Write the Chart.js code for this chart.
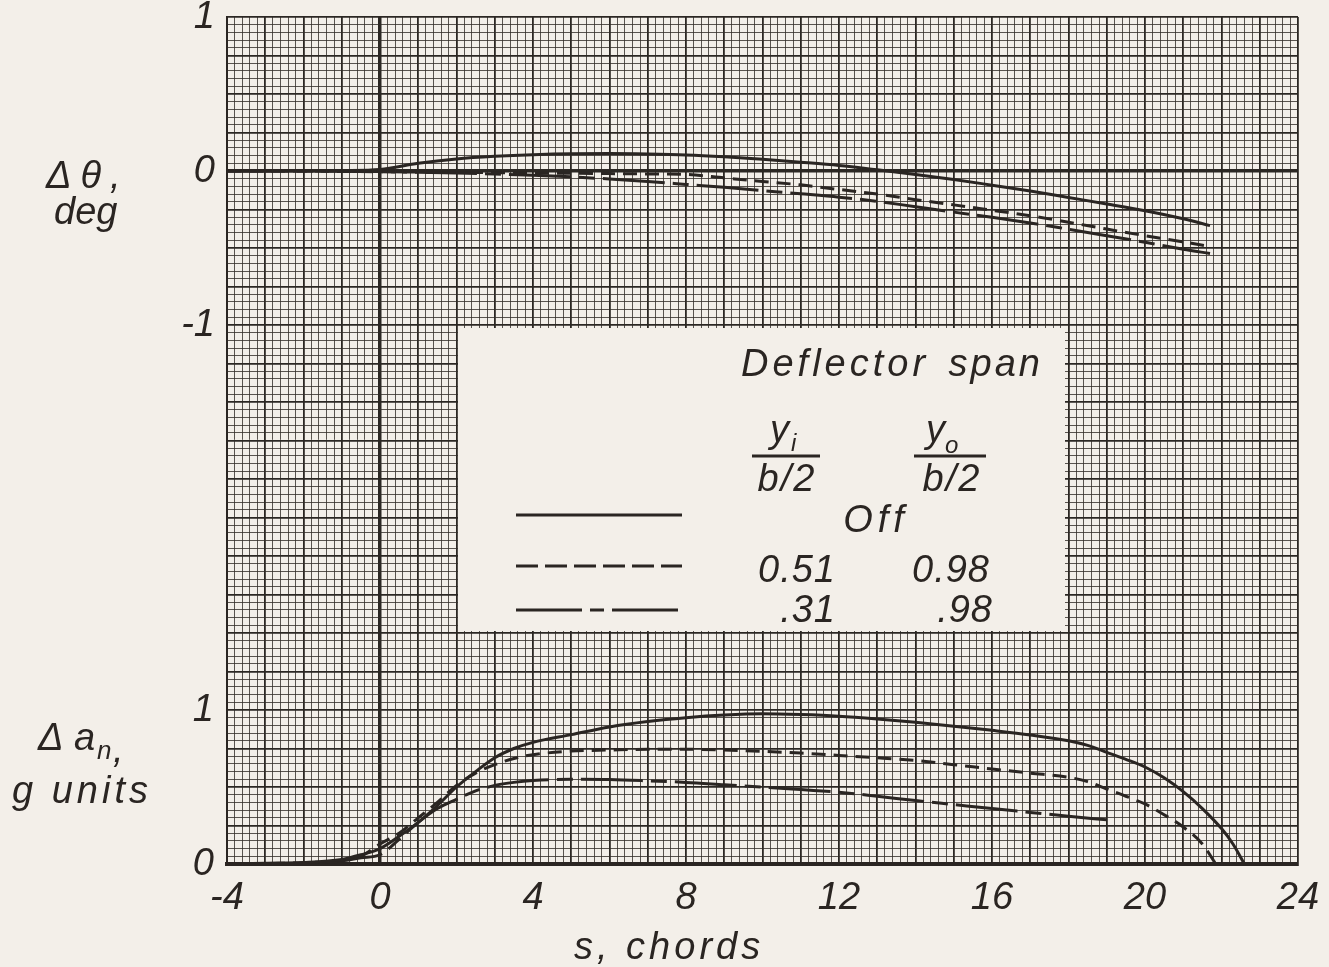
<!DOCTYPE html>
<html>
<head>
<meta charset="utf-8">
<script src="https://cdn.jsdelivr.net/npm/chart.js@4.4.1/dist/chart.umd.min.js"></script>
<style>
html, body { margin: 0; padding: 0; background: #f3efe9; }
#wrap { width: 1329px; height: 967px; }
</style>
</head>
<body>
<div id="wrap"><canvas id="chart" width="1329" height="967"></canvas></div>
<script>
// s, chords (shared by the three delta-theta curves)
const sTheta = [-4, -2, -1, 0, 1, 2, 3, 4, 5, 6, 7, 8, 9, 10, 11, 12, 13, 14, 15, 16, 17, 18, 19, 20, 21, 21.7];
// delta theta, deg
const thetaOff = [0, 0, 0.003, 0.01, 0.05, 0.078, 0.095, 0.106, 0.112, 0.113, 0.11, 0.104, 0.092, 0.076, 0.057, 0.036, 0.008, -0.022, -0.055, -0.092, -0.13, -0.172, -0.214, -0.258, -0.31, -0.355];
const theta51 = [0, 0, -0.003, -0.005, -0.007, -0.009, -0.011, -0.013, -0.015, -0.017, -0.019, -0.022, -0.045, -0.068, -0.09, -0.12, -0.15, -0.186, -0.22, -0.255, -0.29, -0.333, -0.377, -0.42, -0.46, -0.49];
const theta31 = [0, 0, -0.002, -0.004, -0.008, -0.013, -0.02, -0.028, -0.038, -0.052, -0.068, -0.087, -0.106, -0.127, -0.148, -0.17, -0.197, -0.232, -0.267, -0.3, -0.337, -0.378, -0.42, -0.463, -0.508, -0.536];

// delta a_n, g units
const sAccelOff = [-4, -3, -2, -1, -0.5, 0, 0.5, 1, 1.5, 2, 2.5, 3, 3.5, 4, 5, 6, 7, 8, 9, 10, 11, 12, 13, 14, 15, 16, 17, 18, 18.5, 19, 19.5, 20, 20.5, 21, 21.5, 22, 22.3, 22.6];
const accelOff = [0, 0.005, 0.01, 0.03, 0.06, 0.1, 0.18, 0.27, 0.38, 0.5, 0.6, 0.69, 0.75, 0.79, 0.84, 0.89, 0.925, 0.95, 0.967, 0.975, 0.97, 0.96, 0.942, 0.92, 0.895, 0.868, 0.838, 0.8, 0.77, 0.725, 0.68, 0.63, 0.56, 0.47, 0.36, 0.23, 0.13, 0];
const sAccel51 = [-4, -3, -2, -1, -0.5, 0, 0.5, 1, 1.5, 2, 2.5, 3, 3.5, 4, 5, 6, 7, 8, 9, 10, 11, 12, 13, 14, 15, 16, 17, 18, 18.5, 19, 19.5, 20, 20.5, 21, 21.5, 21.85];
const accel51 = [0, 0.003, 0.008, 0.025, 0.05, 0.13, 0.2, 0.3, 0.4, 0.51, 0.59, 0.645, 0.685, 0.71, 0.733, 0.74, 0.745, 0.745, 0.74, 0.732, 0.72, 0.705, 0.69, 0.672, 0.645, 0.617, 0.59, 0.563, 0.535, 0.487, 0.44, 0.39, 0.32, 0.24, 0.13, 0];
const sAccel31 = [-4, -3, -2, -1, -0.5, 0, 0.5, 1, 1.5, 2, 2.5, 3, 3.5, 4, 5, 6, 7, 8, 9, 10, 11, 12, 13, 14, 15, 16, 17, 18, 19];
const accel31 = [0, 0.002, 0.005, 0.02, 0.04, 0.06, 0.16, 0.27, 0.36, 0.42, 0.475, 0.51, 0.53, 0.542, 0.55, 0.548, 0.54, 0.53, 0.515, 0.5, 0.483, 0.466, 0.44, 0.412, 0.386, 0.36, 0.335, 0.31, 0.287];

const xLabels = [-4, 0, 4, 8, 12, 16, 20, 24];
const thetaLabels = [1, 0, -1];
const accelLabels = [1, 0];

const ink = '#2a2522';
const paper = '#f3efe9';
const fam = "'Liberation Sans', Arial, sans-serif";
const dashed = [14, 8];
const dashDot = [62, 8, 16, 8];

const near = (a, b) => Math.abs(a - b) < 1e-6;
const isMult = (v, m) => near(v / m, Math.round(v / m));

function series(xs, ys, dash, axis) {
    return {
        data: xs.map((x, i) => ({ x: x, y: ys[i] })),
        yAxisID: axis,
        borderColor: ink,
        borderWidth: 3,
        borderDash: dash,
        pointRadius: 0,
        fill: false,
        cubicInterpolationMode: 'monotone'
    };
}

function txt(c, s, x, y, size, align, spacing) {
    c.font = 'italic ' + size + 'px ' + fam;
    c.textAlign = align || 'left';
    c.letterSpacing = (spacing || 0) + 'px';
    c.fillText(s, x, y);
}

const paperText = {
    id: 'paperText',
    beforeDraw(chart) {
        const c = chart.ctx;
        c.save();
        c.fillStyle = paper;
        c.fillRect(0, 0, chart.width, chart.height);
        c.restore();
    },
    afterDatasetsDraw(chart) {
        const c = chart.ctx;
        c.save();
        // legend panel cut out of the grid
        c.fillStyle = paper;
        c.fillRect(458, 328, 607, 303);
        c.fillStyle = ink;
        c.textBaseline = 'alphabetic';
        txt(c, 'Deflector', 741, 376, 38, 'left', 4);
        txt(c, 'span', 1043, 376, 38, 'right', 3);
        // y_i / (b/2)
        txt(c, 'y', 770, 442, 38);
        txt(c, 'i', 791, 451, 24);
        txt(c, 'b/2', 787, 491, 38, 'center', 2);
        // y_o / (b/2)
        txt(c, 'y', 926, 442, 38);
        txt(c, 'o', 945, 453, 24);
        txt(c, 'b/2', 952, 491, 38, 'center', 2);
        c.strokeStyle = ink;
        c.lineWidth = 2.8;
        c.setLineDash([]);
        c.beginPath();
        c.moveTo(752, 456); c.lineTo(820, 456);
        c.moveTo(914, 456); c.lineTo(986, 456);
        c.stroke();

        txt(c, 'Off', 876, 532, 38, 'center', 5);
        txt(c, '0.51', 836, 582, 38, 'right', 1);
        txt(c, '0.98', 990, 582, 38, 'right', 1);
        txt(c, '.31', 836, 622, 38, 'right', 1);
        txt(c, '.98', 993, 622, 38, 'right', 1);

        const samples = [[515, []], [566, [22, 7]], [610, [66, 8, 14, 8]]];
        c.lineWidth = 3;
        samples.forEach(([y, dash]) => {
            c.setLineDash(dash);
            c.beginPath();
            c.moveTo(516, y);
            c.lineTo(682, y);
            c.stroke();
        });
        c.restore();
    },
    afterDraw(chart) {
        const c = chart.ctx;
        const y2 = chart.scales.y2;
        c.save();
        c.fillStyle = ink;
        c.textBaseline = 'alphabetic';
        txt(c, '\u0394\u03b8,', 46, 188, 38, 'left', 9);
        txt(c, 'deg', 54, 224, 38);
        txt(c, '\u0394', 38, 750, 38);
        txt(c, 'a', 74, 750, 38);
        txt(c, 'n', 97, 759, 26);
        txt(c, ',', 113, 762, 38);
        txt(c, 'g units', 12, 803, 38, 'left', 4);
        txt(c, 's, chords', 574, 959, 38, 'left', 4);
        c.textBaseline = 'middle';
        accelLabels.forEach(v => {
            txt(c, String(v), 214, y2.getPixelForValue(v), 38, 'right');
        });
        c.restore();
    }
};

const gridColor = major => major ? '#2b2723' : 'rgba(50,45,40,0.8)';

new Chart(document.getElementById('chart'), {
    type: 'line',
    data: {
        datasets: [
            series(sTheta, thetaOff, [], 'y'),
            series(sTheta, theta51, dashed, 'y'),
            series(sTheta, theta31, dashDot, 'y'),
            series(sAccelOff, accelOff, [], 'y2'),
            series(sAccel51, accel51, dashed, 'y2'),
            series(sAccel31, accel31, dashDot, 'y2')
        ]
    },
    options: {
        responsive: false,
        animation: false,
        layout: { padding: { top: 17, right: 31, left: 0, bottom: 0 } },
        plugins: { legend: { display: false }, tooltip: { enabled: false } },
        scales: {
            x: {
                type: 'linear',
                min: -4,
                max: 24,
                afterFit: s => { s.height = 103; s.paddingLeft = 0; s.paddingRight = 0; },
                ticks: {
                    stepSize: 0.2,
                    autoSkip: false,
                    maxRotation: 0,
                    minRotation: 0,
                    padding: 12,
                    color: ink,
                    font: { family: fam, size: 38, style: 'italic' },
                    callback: v => xLabels.some(l => near(l, v)) ? String(Math.round(v)) : ''
                },
                grid: {
                    drawTicks: false,
                    color: ctx => gridColor(isMult(ctx.tick.value, 1)),
                    lineWidth: ctx => near(ctx.tick.value, 0) ? 3.5 : (isMult(ctx.tick.value, 1) ? 1.8 : 1)
                },
                border: { display: true, width: 4, color: ink }
            },
            y: {
                type: 'linear',
                position: 'left',
                min: -4.5,
                max: 1,
                afterFit: s => { s.width = 227; s.paddingTop = 0; s.paddingBottom = 0; },
                ticks: {
                    stepSize: 0.05,
                    autoSkip: false,
                    padding: 12,
                    color: ink,
                    font: { family: fam, size: 38, style: 'italic' },
                    callback: v => thetaLabels.some(l => near(l, v)) ? String(Math.round(v)) : ''
                },
                grid: {
                    drawTicks: false,
                    color: ctx => gridColor(isMult(ctx.tick.value, 0.25)),
                    lineWidth: ctx => near(ctx.tick.value, 0) ? 3.5 : (isMult(ctx.tick.value, 0.25) ? 1.8 : 1)
                },
                border: { display: true, width: 2, color: ink }
            },
            y2: {
                type: 'linear',
                display: false,
                min: 0,
                max: 5.5
            }
        }
    },
    plugins: [paperText]
});
</script>
</body>
</html>
